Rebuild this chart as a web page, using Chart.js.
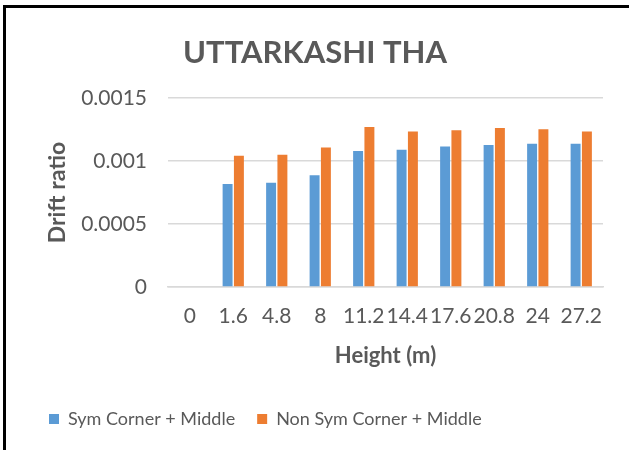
<!DOCTYPE html>
<html>
<head>
<meta charset="utf-8">
<script src="https://cdn.jsdelivr.net/npm/chart.js@4.4.0/dist/chart.umd.min.js"></script>
<style>
  html, body { margin: 0; padding: 0; background: #fff; }
  #wrap { position: relative; width: 629px; height: 450px; }
  #frame { position: absolute; left: 3px; top: 5px; right: -10px; bottom: -10px;
           border-left: 3px solid #000; border-top: 3px solid #000; pointer-events: none; }
</style>
</head>
<body>
<div id="wrap">
  <canvas id="myChart" width="629" height="450"></canvas>
  <div id="frame"></div>
</div>
<script>
const heights = ['0', '1.6', '4.8', '8', '11.2', '14.4', '17.6', '20.8', '24', '27.2'];
const symCornerMiddle = [0, 0.000818, 0.000828, 0.000888, 0.00108, 0.00109, 0.001117, 0.001128, 0.001138, 0.001138];
const nonSymCornerMiddle = [0, 0.001042, 0.00105, 0.001109, 0.001272, 0.001235, 0.001246, 0.001264, 0.001254, 0.001235];
const yTicks = [0, 0.0005, 0.001, 0.0015];

const textGray = '#595959';
const fontFamily = 'Lato, "Open Sans", sans-serif';
const context = document.getElementById('myChart').getContext('2d');

new Chart(context, {
  type: 'bar',
  data: {
    labels: heights,
    datasets: [
      {
        label: 'Sym Corner + Middle',
        data: symCornerMiddle,
        backgroundColor: '#5B9BD5',
        borderWidth: 0,
        categoryPercentage: 0.52,
        barPercentage: 0.88
      },
      {
        label: 'Non Sym Corner + Middle',
        data: nonSymCornerMiddle,
        backgroundColor: '#ED7D31',
        borderWidth: 0,
        categoryPercentage: 0.52,
        barPercentage: 0.88
      }
    ]
  },
  options: {
    responsive: false,
    animation: false,
    layout: {
      padding: { left: 27, right: 26, top: 30, bottom: 12 }
    },
    plugins: {
      title: {
        display: true,
        text: 'UTTARKASHI THA',
        color: textGray,
        font: { family: fontFamily, size: 31, weight: 'bold' },
        padding: { top: 4, bottom: 27 }
      },
      legend: {
        position: 'bottom',
        align: 'start',
        labels: {
          color: textGray,
          font: { family: fontFamily, size: 18 },
          boxWidth: 10,
          boxHeight: 10,
          padding: 22
        }
      },
      tooltip: { enabled: false }
    },
    scales: {
      x: {
        afterFit: axis => { axis.height = 101; },
        grid: { display: false, drawTicks: false },
        border: { display: true, color: '#d9d9d9', width: 1.5 },
        ticks: {
          color: textGray,
          font: { family: fontFamily, size: 21 },
          padding: 17,
          maxRotation: 0,
          autoSkip: false
        },
        title: {
          display: true,
          text: 'Height (m)',
          color: textGray,
          font: { family: fontFamily, size: 22, weight: 'bold' },
          padding: { top: 0, bottom: 19 }
        }
      },
      y: {
        min: 0,
        max: 0.0015,
        afterBuildTicks: axis => { axis.ticks = yTicks.map(v => ({ value: v })); },
        afterFit: axis => { axis.width = 141; },
        grid: { color: '#d9d9d9', lineWidth: 1.5, drawTicks: false },
        border: { display: false },
        ticks: {
          color: textGray,
          font: { family: fontFamily, size: 21 },
          padding: 21,
          callback: v => String(v)
        },
        title: {
          display: true,
          text: 'Drift ratio',
          color: textGray,
          font: { family: fontFamily, size: 23, weight: 'bold' },
          padding: { top: 17, bottom: 0 }
        }
      }
    }
  }
});
</script>
</body>
</html>
